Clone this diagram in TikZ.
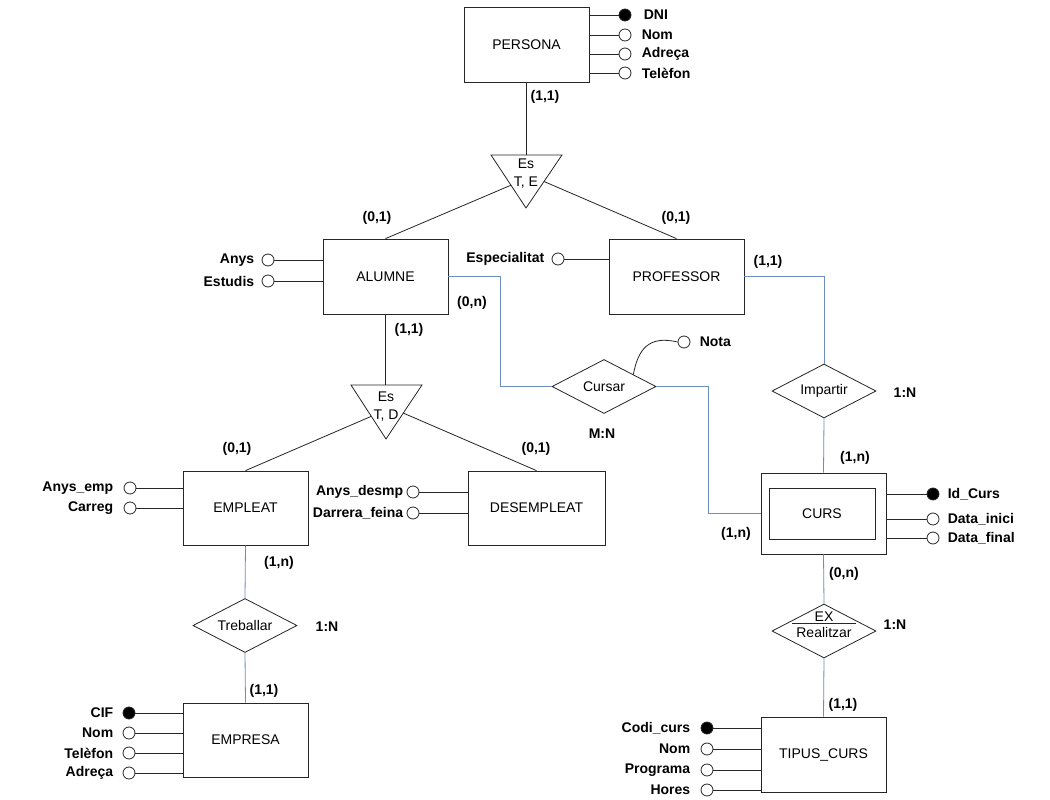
\documentclass[tikz,border=0pt]{standalone}
\usepackage{fontspec}
\setmainfont{Liberation Sans}
\usetikzlibrary{
    shapes.geometric,
    positioning,
}
\definecolor{linkblue}{RGB}{108,142,191}
\newcommand{\erfont}{\fontsize{14}{16}\selectfont}
\tikzstyle{entity} = [rectangle, draw, inner sep=0pt,
    minimum height=75pt, font=\erfont]
\tikzstyle{relation} = [diamond, draw, aspect=2, inner sep=0pt,
    minimum width=104pt, minimum height=54pt, font=\erfont]
\tikzstyle{attr} = [circle, draw, fill=white, minimum size=12pt, inner sep=0pt]
\tikzstyle{keyattr} = [attr, fill=black]
\tikzstyle{lbl} = [inner sep=1pt, font=\erfont\bfseries]
\tikzstyle{card} = [inner sep=1pt, font=\erfont\bfseries]
\tikzstyle{isa} = [align=center, font=\fontsize{14}{18}\selectfont]
\tikzstyle{line} = [draw]
\tikzstyle{link} = [draw, linkblue]

\begin{document}
\begin{tikzpicture}[x=1pt, y=-1pt, line width=0.8pt, draw=black!85]
        \fill[white] (0,0) rectangle (1050,800);
        \useasboundingbox (0,0) rectangle (1050,800);
        % Place entities
        \node [entity, minimum width=125pt] (persona) at (526.5,44.5) {PERSONA};
        \node [entity, minimum width=125pt] (alumne) at (385.5,276.5) {ALUMNE};
        \node [entity, minimum width=135pt] (professor) at (676.5,276.5) {PROFESSOR};
        \node [entity, minimum width=125pt, minimum height=74pt] (empleat) at (245.5,508) {EMPLEAT};
        \node [entity, minimum width=137pt, minimum height=74pt] (desempleat) at (536.5,508) {DESEMPLEAT};
        \node [entity, minimum width=125pt, minimum height=74pt] (empresa) at (245.5,740) {EMPRESA};
        \node [entity, minimum width=125pt, minimum height=81pt] (curs) at (823.5,513.5) {};
        \node [entity, minimum width=106pt, minimum height=51pt] (cursIn) at (822,513.5) {CURS};
        \node [entity, minimum width=125pt] (tipusCurs) at (823.5,754.5) {TIPUS\_CURS};
        % Place relations
        \node [relation] (cursar) at (604,386.5) {Cursar};
        \node [relation] (impartir) at (824,391) {Impartir};
        \node [relation] (treballar) at (245,625.5) {Treballar};
        \node [relation] (realitzar) at (824,631) {};
        \node [isa, font=\fontsize{14}{16}\selectfont] (realitzarTxt) at (824,625) {EX\\Realitzar};
        \path [line] ([xshift=-32pt,yshift=2pt]realitzarTxt.center) -- ([xshift=32pt,yshift=2pt]realitzarTxt.center);
        % Place generalisations
        \coordinate (esTE_l) at (491,155);
        \coordinate (esTE_r) at (562,155);
        \coordinate (esTE_b) at (526,208);
        \path [line] (esTE_l) -- (esTE_r) -- (esTE_b) -- cycle;
        \node [isa] (esTE) at (526,174) {Es\\T, E};
        \path (esTE_l) -- (esTE_r) coordinate[midway] (esTE_n);
        \path (esTE_l) -- (esTE_b) coordinate[pos=0.57] (esTE_w);
        \path (esTE_r) -- (esTE_b) coordinate[pos=0.5] (esTE_e);
        \coordinate (esTD_l) at (351,385);
        \coordinate (esTD_r) at (422,385);
        \coordinate (esTD_b) at (386,439);
        \path [line] (esTD_l) -- (esTD_r) -- (esTD_b) -- cycle;
        \node [isa] (esTD) at (386,407) {Es\\T, D};
        \path (esTD_l) -- (esTD_b) coordinate[pos=0.58] (esTD_w);
        \path (esTD_r) -- (esTD_b) coordinate[pos=0.52] (esTD_e);
        % Place attributes
        \node [keyattr] (pDni) at (625,15) {};
        \node [attr] (pNom) at (625,35) {};
        \node [attr] (pAdreca) at (625,54) {};
        \node [attr] (pTelefon) at (625,73) {};
        \node [lbl, right=11pt of pDni] {DNI};
        \node [lbl, right=9pt of pNom] {Nom};
        \node [lbl, right=9pt of pAdreca] {Adreça};
        \node [lbl, right=9pt of pTelefon] {Telèfon};
        \node [attr] (aAnys) at (268,260) {};
        \node [attr] (aEstudis) at (268,281) {};
        \node [lbl, left=6pt of aAnys] {Anys};
        \node [lbl, left=6pt of aEstudis] {Estudis};
        \node [attr] (prEspec) at (558,259) {};
        \node [lbl, left=6pt of prEspec] {Especialitat};
        \node [attr] (nota) at (684,342) {};
        \node [lbl, right=8pt of nota] {Nota};
        \node [attr] (eAnys) at (130,488) {};
        \node [attr] (eCarreg) at (130,508) {};
        \node [lbl, left=9pt of eAnys] {Anys\_emp};
        \node [lbl, left=9pt of eCarreg] {Carreg};
        \node [attr] (dAnys) at (413,492) {};
        \node [attr] (dDarrera) at (413,513) {};
        \node [lbl, left=2pt of dAnys] {Anys\_desmp};
        \node [lbl, left=2pt of dDarrera] {Darrera\_feina};
        \node [keyattr] (emCif) at (129,713) {};
        \node [attr] (emNom) at (129,733) {};
        \node [attr] (emTelefon) at (129,753) {};
        \node [attr] (emAdreca) at (129,773) {};
        \node [lbl, left=8pt of emCif] {CIF};
        \node [lbl, left=8pt of emNom] {Nom};
        \node [lbl, left=8pt of emTelefon] {Telèfon};
        \node [lbl, left=8pt of emAdreca] {Adreça};
        \node [keyattr] (cId) at (933,494) {};
        \node [attr] (cInici) at (933,519) {};
        \node [attr] (cFinal) at (933,538) {};
        \node [lbl, right=7pt of cId] {Id\_Curs};
        \node [lbl, right=7pt of cInici] {Data\_inici};
        \node [lbl, right=7pt of cFinal] {Data\_final};
        \node [keyattr] (tCodi) at (707,728) {};
        \node [attr] (tNom) at (707,749) {};
        \node [attr] (tPrograma) at (707,770) {};
        \node [attr] (tHores) at (707,790) {};
        \node [lbl, left=9pt of tCodi] {Codi\_curs};
        \node [lbl, left=9pt of tNom] {Nom};
        \node [lbl, left=9pt of tPrograma] {Programa};
        \node [lbl, left=9pt of tHores] {Hores};
        % Place cardinalities
        \node [card] (cardPersona) at (545,97) {(1,1)};
        \node [card] (cardAlumneUp) at (377,218) {(0,1)};
        \node [card] (cardProfUp) at (676,218) {(0,1)};
        \node [card] (cardAlumneCursar) at (472,303) {(0,n)};
        \node [card] (cardAlumneDown) at (409,330) {(1,1)};
        \node [card] (cardProfImp) at (768,262) {(1,1)};
        \node [card] (typeCursar) at (602,434) {M:N};
        \node [card] (typeImpartir) at (905,393) {1:N};
        \node [card] (cardCursImp) at (855,458) {(1,n)};
        \node [card] (cardEmpleatUp) at (237,449) {(0,1)};
        \node [card] (cardDesempUp) at (536,449) {(0,1)};
        \node [card] (cardEmpleat) at (279,563) {(1,n)};
        \node [card] (typeTreballar) at (327,627) {1:N};
        \node [card] (cardEmpresa) at (264,691) {(1,1)};
        \node [card] (cardCursCursar) at (736,534) {(1,n)};
        \node [card] (cardCursReal) at (844,574) {(0,n)};
        \node [card] (typeRealitzar) at (895,625) {1:N};
        \node [card] (cardTipus) at (843,705) {(1,1)};
        % Draw edges
        \coordinate (bendA) at (500,0);
        \coordinate (bendB) at (708,0);
        \path [line] (persona.south) -- (esTE_n);
        \path [line] (esTE_w) -- (alumne.north);
        \path [line] (esTE_e) -- (professor.north);
        \path [line] (alumne.south) -- (alumne.south |- esTD_l);
        \path [line] (esTD_w) -- (empleat.north);
        \path [line] (esTD_e) -- (desempleat.north);
        \path [link] (alumne.east) -- (alumne.east -| bendA) |- (cursar.west);
        \path [link] (cursar.east) -- (cursar.east -| bendB) |- (curs.west);
        \path [link] (professor.east) -| (impartir.north);
        \path [link] (impartir.south) -- (curs.north);
        \path [link] (curs.south) -- (realitzar.north);
        \path [link] (realitzar.south) -- (tipusCurs.north);
        \path [link] (empleat.south) -- (treballar.north);
        \path [link] (treballar.south) -- (empresa.north);
        \path (cursar.north) -- (cursar.east) coordinate[pos=0.56] (cursar_ne);
        \path [line] (cursar_ne) .. controls (638,350) and (648,335) .. (nota.west);
        % Attribute edges
        \foreach \a in {pDni,pNom,pAdreca,pTelefon}
            \path [line] (\a.west) -- (\a -| persona.east);
        \foreach \a in {aAnys,aEstudis}
            \path [line] (\a.east) -- (\a -| alumne.west);
        \path [line] (prEspec.east) -- (prEspec -| professor.west);
        \foreach \a in {eAnys,eCarreg}
            \path [line] (\a.east) -- (\a -| empleat.west);
        \foreach \a in {dAnys,dDarrera}
            \path [line] (\a.east) -- (\a -| desempleat.west);
        \foreach \a in {emCif,emNom,emTelefon,emAdreca}
            \path [line] (\a.east) -- (\a -| empresa.west);
        \foreach \a in {cId,cInici,cFinal}
            \path [line] (\a.west) -- (\a -| curs.east);
        \foreach \a in {tCodi,tNom,tPrograma,tHores}
            \path [line] (\a.east) -- (\a -| tipusCurs.west);
    \end{tikzpicture}
\end{document}
